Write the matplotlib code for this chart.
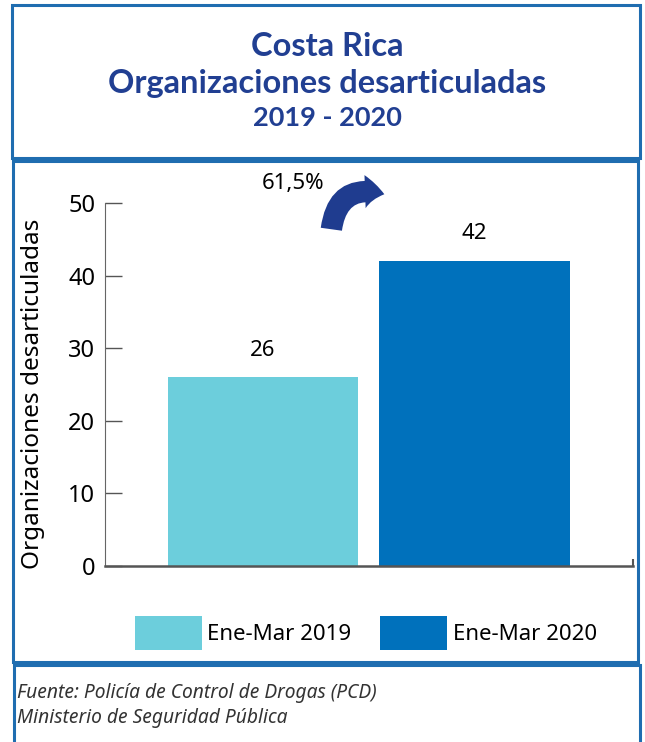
import matplotlib
matplotlib.use('Agg')
from matplotlib import pyplot as plt
from matplotlib.patches import Rectangle, FancyArrowPatch

# data
periods = ['Ene-Mar 2019', 'Ene-Mar 2020']
values = [26, 42]
change_label = '61,5%'
title_lines = ['Costa Rica', 'Organizaciones desarticuladas', '2019 - 2020']
ylabel = 'Organizaciones desarticuladas'
source_lines = ['Fuente: Policía de Control de Drogas (PCD)',
                'Ministerio de Seguridad Pública']

colors = ['#6ccedc', '#0071bc']
border = '#1f6db0'
navy = '#213f92'

W, H = 645, 742
fig = plt.figure(figsize=(W / 100, H / 100), dpi=100)
plt.rcParams['font.family'] = ['Noto Sans', 'DejaVu Sans']


def box(x0, y0, x1, y1):
    # pixel coords, y from top
    fig.patches.append(Rectangle((x0 / W, 1 - y1 / H), (x1 - x0) / W, (y1 - y0) / H,
                                 transform=fig.transFigure, fill=False,
                                 edgecolor=border, linewidth=2.2))


box(12, 5, 640, 158)
box(13, 161, 638, 662)
box(14, 665, 640, 760)

# title
for line, y, fs in zip(title_lines, [46, 83, 118], [23.5, 23.5, 19.5]):
    fig.text(327 / W, 1 - y / H, line, ha='center', va='center', color=navy,
             fontsize=fs, fontweight='bold', family=['Lato', 'DejaVu Sans'])

ax = fig.add_axes([105 / W, 1 - 566 / H, (633 - 105) / W, (566 - 203) / H])
x = list(range(len(values)))
bars = ax.bar(x, values, width=0.9, color=colors, label=periods)
ax.set_xlim(-0.747, 1.75)
ax.set_ylim(0, 50)
ax.set_yticks([0, 10, 20, 30, 40, 50])
ax.set_xticks([1.75])
ax.set_xticklabels([''])
ax.tick_params(axis='y', direction='in', length=12, width=1, color='#555555',
               labelsize=17, pad=7)
ax.tick_params(axis='x', direction='in', length=5, width=1.5, color='#555555')
for s in ['top', 'right']:
    ax.spines[s].set_visible(False)
ax.spines['left'].set_color('#666666')
ax.spines['bottom'].set_color('#555555')
ax.spines['bottom'].set_linewidth(1.8)
ax.set_ylabel(ylabel, fontsize=17.5)
ax.yaxis.set_label_coords(-0.113, 0.475)
for b, v in zip(bars, values):
    ax.text(b.get_x() + b.get_width() / 2, v + 2.3, str(v), ha='center',
            va='bottom', fontsize=16)

# change annotation
fig.text(293 / W, 1 - 183 / H, change_label, ha='center', va='center', fontsize=16)
arrow = FancyArrowPatch((331 / W, 1 - 232 / H), (387 / W, 1 - 195 / H),
                        transform=fig.transFigure,
                        connectionstyle='arc3,rad=-0.6',
                        arrowstyle='simple,head_width=1.7,head_length=1.0,tail_width=1.1',
                        mutation_scale=14, color='#1f3c8f', linewidth=0)
fig.patches.append(arrow)

leg = ax.legend(loc='center', bbox_to_anchor=(366 / W, 1 - 633 / H),
                bbox_transform=fig.transFigure, ncol=2, frameon=False,
                fontsize=16, handlelength=3.0, handleheight=2.0,
                handletextpad=0.25, columnspacing=1.3)

for line, y in zip(source_lines, [693, 718]):
    fig.text(17 / W, 1 - y / H, line, ha='left', va='center', fontsize=13.8,
             style='italic', color='#333333')

fig.savefig('out.png', dpi=100)
